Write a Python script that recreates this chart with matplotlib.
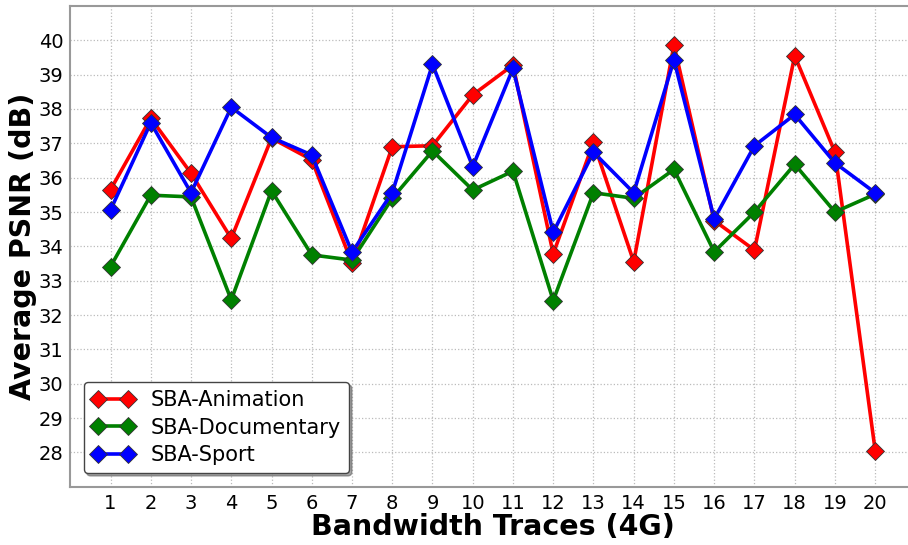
import numpy as np
import matplotlib
matplotlib.use("Agg")
import matplotlib.pyplot as plt

# Données
traces = list(range(1, 21))
psnr_animation = [35.65, 37.73, 36.13, 34.23, 37.15, 36.52, 33.51, 36.90, 36.93, 38.41,
                  39.28, 33.78, 37.03, 33.55, 39.86, 34.75, 33.89, 39.55, 36.74, 28.05]
psnr_documentary = [33.41, 35.49, 35.44, 32.44, 35.62, 33.75, 33.60, 35.40, 36.78, 35.64,
                    36.19, 32.42, 35.56, 35.40, 36.24, 33.84, 35.00, 36.39, 35.00, 35.52]
psnr_sport = [35.06, 37.60, 35.56, 38.05, 37.17, 36.66, 33.83, 35.56, 39.30, 36.32,
              39.18, 34.41, 36.74, 35.56, 39.43, 34.80, 36.93, 37.84, 36.43, 35.56]

fig = plt.figure(figsize=(9.08, 5.45), dpi=100)
ax = fig.add_axes([0.0774, 0.107, 0.9308, 0.882])

style = dict(marker='D', markersize=9, linewidth=2.6, markeredgecolor='#333333', markeredgewidth=0.6)
ax.plot(traces, psnr_animation, color='red', label="SBA-Animation", **style)
ax.plot(traces, psnr_documentary, color='green', label="SBA-Documentary", **style)
ax.plot(traces, psnr_sport, color='blue', label="SBA-Sport", **style)

ax.set_xlim(0, 21)
ax.set_ylim(27, 41)
ax.set_xticks(traces)
ax.set_yticks(range(28, 41))
ax.tick_params(labelsize=14, length=0, pad=5)
ax.grid(True, color='#bbbbbb', linestyle=':', linewidth=0.9)
for s in ax.spines.values():
    s.set_color('#999999')
    s.set_linewidth(1.5)

ax.set_xlabel("Bandwidth Traces (4G)", fontsize=20.5, fontweight='bold', labelpad=0)
ax.set_ylabel("Average PSNR (dB)", fontsize=20.5, fontweight='bold', labelpad=1)

leg = ax.legend(loc='lower left', numpoints=2, fontsize=15, handlelength=2.0,
                fancybox=True, shadow=True, borderaxespad=0.65, framealpha=1,
                labelspacing=0.35)
leg.get_frame().set_edgecolor('#444444')

fig.savefig("out.png", dpi=100)
